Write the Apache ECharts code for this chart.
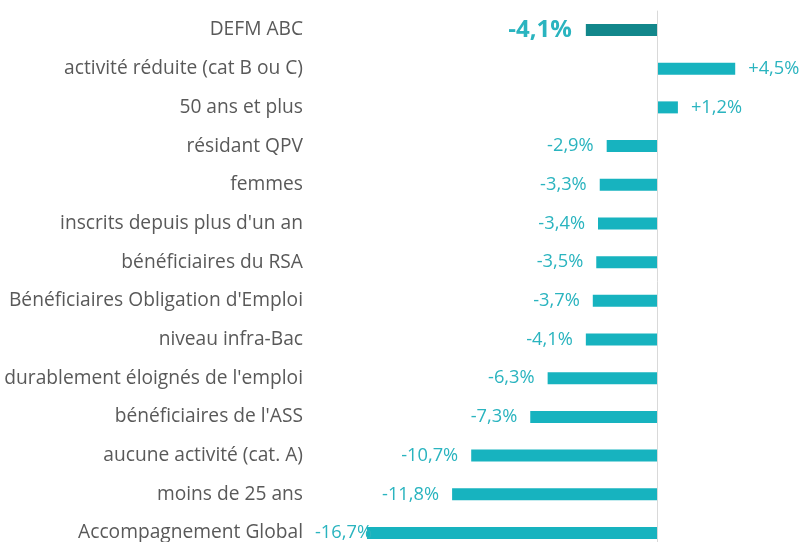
<!doctype html>
<html>
<head>
	<meta charset="utf-8">
	<style>
		html, body { margin: 0; padding: 0; background: #fff; overflow: hidden; }
		#chart { width: 801px; height: 570px; }
	</style>
</head>
<body>
	<div id="chart"></div>
	<script src="https://cdn.jsdelivr.net/npm/echarts@6/dist/echarts.min.js"></script>
	<script>
		// categories, top to bottom
		var categories = [
			"DEFM ABC",
			"activité réduite (cat B ou C)",
			"50 ans et plus",
			"résidant QPV",
			"femmes",
			"inscrits depuis plus d'un an",
			"bénéficiaires du RSA",
			"Bénéficiaires Obligation d'Emploi",
			"niveau infra-Bac",
			"durablement éloignés de l'emploi",
			"bénéficiaires de l'ASS",
			"aucune activité (cat. A)",
			"moins de 25 ans",
			"Accompagnement Global"
		];
		// évolution sur un an (%)
		var values = [-4.1, 4.5, 1.2, -2.9, -3.3, -3.4, -3.5, -3.7, -4.1, -6.3, -7.3, -10.7, -11.8, -16.7];

		var teal = '#17B3BF';
		var tealDark = '#12878B';
		var labelColor = '#2AB4BF';
		var font = 'Open Sans';

		function fmt(v) {
			var s = Math.abs(v).toFixed(1).replace('.', ',');
			return (v > 0 ? '+' : '-') + s + '%';
		}

		var seriesData = values.map(function(v, i) {
			var item = {
				value: v,
				itemStyle: { color: i === 0 ? tealDark : teal },
				label: { position: v < 0 ? 'left' : 'right' }
			};
			if (i === 0) {
				item.label.fontSize = 24;
				item.label.fontWeight = 'bold';
				item.label.distance = 14;
			}
			if (i === values.length - 1) {
				// le libellé bute sur le bord de la zone de tracé
				item.label.distance = -5;
			}
			return item;
		});

		var myChart = echarts.init(document.getElementById('chart'));
		var option = {
			animation: false,
			grid: {
				left: 367,
				right: 5,
				top: 10.65,
				height: 541.7,
				containLabel: false
			},
			xAxis: {
				type: 'value',
				min: -16.7,
				max: 8,
				show: false
			},
			yAxis: {
				type: 'category',
				inverse: true,
				data: categories,
				axisLine: { show: false },
				axisTick: { show: false },
				splitLine: { show: false },
				axisLabel: {
					margin: 64,
					color: '#595959',
					fontSize: 19.2,
					fontFamily: font,
					padding: [4, 0, 0, 0]
				}
			},
			series: [{
				type: 'bar',
				barWidth: 12,
				data: seriesData,
				label: {
					show: true,
					distance: 13,
					color: labelColor,
					fontSize: 18.3,
					fontFamily: font,
					padding: [2, 0, 0, 0],
					formatter: function(p) { return fmt(p.value); }
				},
				markLine: {
					silent: true,
					symbol: 'none',
					label: { show: false },
					lineStyle: { color: '#D9D9D9', type: 'solid', width: 1 },
					data: [{ xAxis: 0 }]
				}
			}]
		};
		myChart.setOption(option);
	</script>
</body>
</html>
